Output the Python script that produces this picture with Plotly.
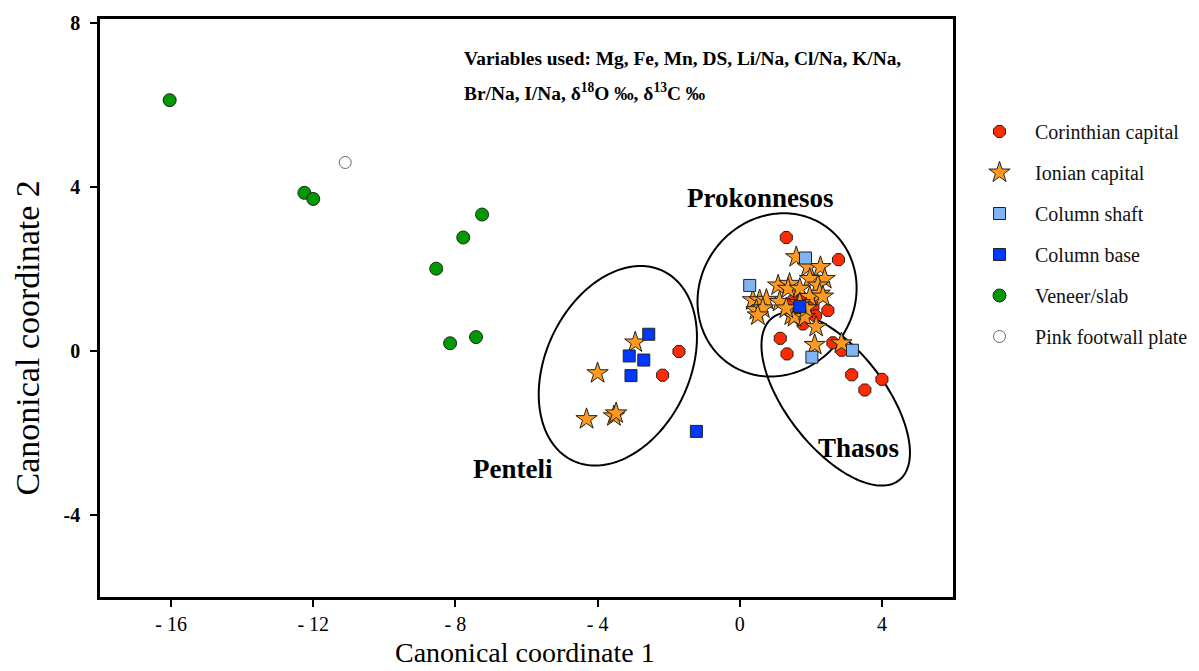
import numpy as np
import plotly.graph_objects as go

# ---------------- data ----------------
corinth_x = [-1.71, -2.17, 1.31, 2.78, 1.50, 1.78, 2.06, 2.48, 2.13, 1.78, 1.14, 1.33, 2.62, 2.87, 3.15, 4.00, 3.52]
corinth_y = [-0.01, -0.59, 2.77, 2.23, 1.24, 1.28, 1.08, 0.99, 0.86, 0.66, 0.31, -0.07, 0.20, 0.02, -0.58, -0.69, -0.95]

ionian_x = [-2.94, -4.00, -4.31, -3.54, -3.48,
            1.59, 1.92, 2.27, 2.39, 1.97, 2.20, 1.08, 1.40, 1.36, 1.69, 2.25, 1.97, 2.34,
            0.37, 0.56, 0.75, 1.12, 0.47, 0.65, 0.51, 1.45, 1.54, 1.83, 2.15, 2.11, 2.86,
            1.31, 1.87, 1.69]
ionian_y = [0.21, -0.54, -1.66, -1.59, -1.52,
            2.29, 2.05, 2.05, 1.76, 1.76, 1.60, 1.60, 1.64, 1.52, 1.52, 1.40, 1.32, 1.33,
            1.24, 1.24, 1.25, 1.20, 1.00, 1.04, 0.87, 0.87, 0.83, 0.83, 0.59, 0.15, 0.19,
            1.04, 1.04, 1.17]

shaft_x = [1.85, 0.28, 2.03, 3.17]
shaft_y = [2.27, 1.60, -0.15, 0.02]

base_x = [-2.56, -3.11, -2.70, -3.06, -1.22, 1.69]
base_y = [0.41, -0.12, -0.22, -0.60, -1.96, 1.09]

veneer_x = [-16.04, -12.25, -12.00, -7.25, -7.78, -8.54, -7.42, -8.15]
veneer_y = [6.12, 3.86, 3.71, 3.33, 2.77, 2.01, 0.34, 0.19]

pink_x = [-11.10]
pink_y = [4.60]

x_tickvals = [-16, -12, -8, -4, 0, 4]
x_ticktext = ["- 16", "- 12", "- 8", "- 4", "0", "4"]
y_tickvals = [8, 4, 0, -4]
y_ticktext = ["<b>8</b>", "<b>4</b>", "<b>0</b>", "<b>-4</b>"]

# ---------------- layout constants ----------------
W, H = 1199, 671
ML, MT = 92, 11
PW, PH = 853, 578
MR = W - ML - PW
MB = H - MT - PH
XR = [-18, 6]
YR = [-6, 8.1]
KX = PW / (XR[1] - XR[0])   # px per x unit
KY = PH / (YR[1] - YR[0])   # px per y unit

FONT = "Liberation Serif"
OUT = "#222222"

fig = go.Figure()

def add(name, xs, ys, symbol, color, size, lw=1, lc=OUT):
    fig.add_trace(go.Scatter(
        x=xs, y=ys, mode="markers", name=name, legendgroup=name,
        marker=dict(symbol=symbol, color=color, size=size,
                    line=dict(color=lc, width=lw))))

add("Corinthian capital", corinth_x, corinth_y, "octagon", "#ff2a00", 13)
add("Ionian capital", ionian_x, ionian_y, "star", "#ff9a1f", 16)
add("Column shaft", shaft_x, shaft_y, "square", "#80b4f2", 12)
add("Column base", base_x, base_y, "square", "#0038ff", 12)
add("Veneer/slab", veneer_x, veneer_y, "circle", "#009a00", 13)
add("Pink footwall plate", pink_x, pink_y, "circle", "#ffffff", 12, 1, "#666666")

# ---------------- ellipses (center in data units, semi-axes in px, angle deg) ----------------
ellipses = [
    dict(cx=-3.43, cy=-0.36, a=105, b=72, ang=64.6),
    dict(cx=1.05, cy=1.37, a=84, b=77, ang=53.5),
    dict(cx=2.70, cy=-1.17, a=103, b=49, ang=-52.0),
]
t = np.linspace(0, 2 * np.pi, 181)
for e in ellipses:
    th = np.radians(e["ang"])
    dx = e["a"] * np.cos(t) * np.cos(th) - e["b"] * np.sin(t) * np.sin(th)
    dy = e["a"] * np.cos(t) * np.sin(th) + e["b"] * np.sin(t) * np.cos(th)
    xs = e["cx"] + dx / KX
    ys = e["cy"] + dy / KY
    path = "M " + " L ".join(f"{x:.4f},{y:.4f}" for x, y in zip(xs, ys)) + " Z"
    fig.add_shape(type="path", path=path, xref="x", yref="y",
                  line=dict(color="black", width=2), layer="below")

# ---------------- text ----------------
ann = []
ann.append(dict(text="<b>Variables used: Mg, Fe, Mn, DS, Li/Na, Cl/Na, K/Na,</b>",
                xref="paper", yref="paper", x=0.4244, y=0.9315, xanchor="left", yanchor="middle",
                showarrow=False, font=dict(family=FONT, size=19.4, color="black")))
ann.append(dict(text="<b>Br/Na, I/Na, δ<sup>18</sup>O ‰, δ<sup>13</sup>C ‰</b>",
                xref="paper", yref="paper", x=0.4244, y=0.8737, xanchor="left", yanchor="middle",
                showarrow=False, font=dict(family=FONT, size=19.4, color="black")))
for txt, x, y in [("Prokonnesos", 0.59, 3.73), ("Penteli", -6.37, -2.88), ("Thasos", 3.33, -2.37)]:
    ann.append(dict(text=f"<b>{txt}</b>", x=x, y=y, xref="x", yref="y", showarrow=False,
                    font=dict(family=FONT, size=27, color="black")))
ann.append(dict(text="Canonical coordinate 1", xref="paper", yref="paper", x=0.4985, y=-0.0952,
                xanchor="center", yanchor="middle", showarrow=False,
                font=dict(family=FONT, size=28, color="black")))
ann.append(dict(text="Canonical coordinate 2", xref="paper", yref="paper", x=-0.0856, y=0.449,
                xanchor="center", yanchor="middle", showarrow=False, textangle=-90,
                font=dict(family=FONT, size=34, color="black")))

common = dict(showgrid=False, zeroline=False, tickcolor="black", tickwidth=1.5, ticklen=7,
              automargin=False)
fig.update_layout(
    width=W, height=H,
    margin=dict(l=ML, r=MR, t=MT, b=MB, autoexpand=False),
    plot_bgcolor="white", paper_bgcolor="white",
    font=dict(family=FONT, color="black"),
    annotations=ann,
    showlegend=True,
    legend=dict(x=1.0129, y=0.8391, xanchor="left", yanchor="top",
                font=dict(family=FONT, size=20, color="#111111"),
                tracegroupgap=12, itemwidth=61, bgcolor="rgba(0,0,0,0)"),
    xaxis=dict(range=XR, tickvals=x_tickvals, ticktext=x_ticktext,
               showline=True, mirror=True, linecolor="black", linewidth=2.5,
               ticks="outside", ticklabelstandoff=0,
               tickfont=dict(family=FONT, size=20, color="black"), **common),
    yaxis=dict(range=YR, tickvals=y_tickvals, ticktext=y_ticktext,
               showline=True, mirror=True, linecolor="black", linewidth=2.5,
               ticks="outside", ticklabelstandoff=6,
               tickfont=dict(family=FONT, size=20, color="black"), **common),
    # inner halves of the crossing tick marks
    xaxis2=dict(overlaying="x", matches="x", anchor="y", side="bottom", range=XR,
                tickvals=x_tickvals, ticks="inside", showticklabels=False,
                showline=False, **common),
    yaxis2=dict(overlaying="y", matches="y", anchor="x", side="left", range=YR,
                tickvals=y_tickvals, ticks="inside", showticklabels=False,
                showline=False, **common),
)

fig.write_html("out.html")
